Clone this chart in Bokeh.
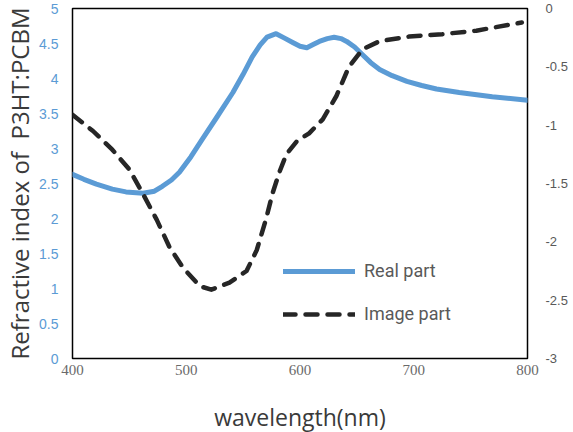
from bokeh.plotting import figure
from bokeh.models import Range1d, LinearAxis, FixedTicker, Legend, LegendItem
from bokeh.embed import file_html
from bokeh.resources import INLINE

# Real part (left axis)
real_wl = [400, 410, 421, 435, 447, 462, 472, 479, 487, 494, 504, 514, 527, 541, 550, 558, 565, 571, 579, 586, 594,
           600, 606, 612, 617, 624, 630, 636, 641, 648, 655, 662, 670, 681, 694, 707, 720, 740, 769, 800]
real_n = [2.63, 2.56, 2.49, 2.42, 2.38, 2.36, 2.39, 2.46, 2.55, 2.66, 2.88, 3.13, 3.45, 3.80, 4.06, 4.31, 4.48, 4.59, 4.64, 4.58, 4.51,
          4.46, 4.44, 4.49, 4.53, 4.57, 4.59, 4.57, 4.53, 4.45, 4.34, 4.23, 4.13, 4.04, 3.96, 3.90, 3.85, 3.80, 3.74, 3.69]

# Image part (right axis)
imag_wl = [400, 418, 435, 450, 462, 474, 485, 497, 512, 522, 538, 553, 562, 570, 576, 582, 588, 597, 608, 620,
           632, 643, 655, 670, 696, 725, 755, 795]
imag_k = [-0.91, -1.05, -1.21, -1.38, -1.59, -1.81, -2.04, -2.22, -2.38, -2.41, -2.35, -2.25, -2.07, -1.81, -1.58, -1.40, -1.25, -1.14, -1.07, -0.95,
          -0.75, -0.50, -0.35, -0.28, -0.24, -0.22, -0.19, -0.12]

left_ticks = [0, 0.5, 1, 1.5, 2, 2.5, 3, 3.5, 4, 4.5, 5]
left_labels = ["0", "0.5", "1", "1.5", "2", "2.5", "3", "3.5", "4", "4.5", "5"]
right_ticks = [-3, -2.5, -2, -1.5, -1, -0.5, 0]
right_labels = ["-3", "-2.5", "-2", "-1.5", "-1", "-0.5", "0"]
x_ticks = [400, 500, 600, 700, 800]

BLUE = "#5B9BD5"
GRAY = "#595959"
DARK = "#3A3A3A"

p = figure(frame_width=455, frame_height=350, output_backend="svg", toolbar_location=None,
           x_range=Range1d(400, 800), y_range=Range1d(0, 5),
           min_border_left=68, min_border_top=8, min_border_right=0, min_border_bottom=0)
p.extra_y_ranges = {"im": Range1d(-3, 0)}

p.grid.visible = False
p.outline_line_color = "black"
p.outline_line_width = 1.5
p.background_fill_color = "white"
p.border_fill_color = "white"

# x axis
xa = p.xaxis[0]
xa.ticker = FixedTicker(ticks=x_ticks)
xa.axis_line_color = None
xa.major_tick_line_color = None
xa.minor_tick_line_color = None
xa.major_tick_out = 0
xa.major_tick_in = 0
xa.major_label_text_font = "Liberation Serif"
xa.major_label_text_font_size = "15px"
xa.major_label_text_color = "#6A6A6A"
xa.major_label_standoff = 6
xa.axis_label = "wavelength(nm)"
xa.axis_label_text_font = "Open Sans"
xa.axis_label_text_font_style = "normal"
xa.axis_label_text_font_size = "23px"
xa.axis_label_text_color = DARK
xa.axis_label_standoff = 23

# left axis
ya = p.yaxis[0]
ya.ticker = FixedTicker(ticks=left_ticks)
ya.major_label_overrides = {t: s for t, s in zip(left_ticks, left_labels)}
ya.axis_line_color = None
ya.major_tick_line_color = None
ya.minor_tick_line_color = None
ya.major_tick_out = 0
ya.major_tick_in = 0
ya.major_label_text_font = "Liberation Sans"
ya.major_label_text_font_size = "14px"
ya.major_label_text_color = BLUE
ya.major_label_standoff = 14
ya.axis_label = "Refractive index of\u00a0 P3HT:PCBM"
ya.axis_label_text_font = "Open Sans"
ya.axis_label_text_font_style = "normal"
ya.axis_label_text_font_size = "24px"
ya.axis_label_text_color = DARK
ya.axis_label_standoff = 0

# right axis
ra = LinearAxis(y_range_name="im", ticker=FixedTicker(ticks=right_ticks))
ra.major_label_overrides = {t: s for t, s in zip(right_ticks, right_labels)}
ra.axis_line_color = None
ra.major_tick_line_color = None
ra.minor_tick_line_color = None
ra.major_tick_out = 0
ra.major_tick_in = 0
ra.major_label_text_font = "Liberation Sans"
ra.major_label_text_font_size = "13px"
ra.major_label_text_color = GRAY
ra.major_label_standoff = 18
p.add_layout(ra, "right")

r_real = p.line(real_wl, real_n, line_color=BLUE, line_width=5, line_join="round", line_cap="round")
r_imag = p.line(imag_wl, imag_k, y_range_name="im", line_color="#262626", line_width=4.5,
                line_dash="12 10", line_cap="round", line_join="round")

legend = Legend(items=[LegendItem(label="Real part", renderers=[r_real]),
                       LegendItem(label="Image part", renderers=[r_imag])],
                location=(211, 34), orientation="vertical",
                border_line_color=None, background_fill_alpha=0,
                glyph_width=72, glyph_height=20, label_height=20, spacing=22,
                padding=0, margin=0, label_standoff=9,
                label_text_font="Roboto", label_text_font_size="18px",
                label_text_color=GRAY)
p.add_layout(legend)

open("out.html", "w").write(file_html(p, INLINE))
